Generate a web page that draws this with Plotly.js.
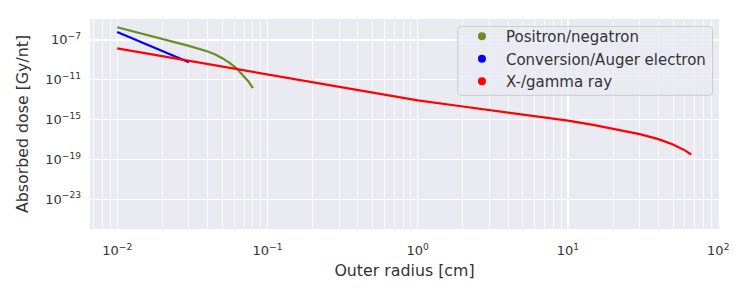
<!DOCTYPE html>
<html>
<head>
<meta charset="utf-8">
<script src="https://cdn.plot.ly/plotly-3.0.1.min.js"></script>
<style>html,body{margin:0;padding:0;background:#fff;}#chart{width:750px;height:300px;}</style>
</head>
<body>
<div id="chart"></div>
<script>
// Positron/negatron
const positronX = [0.01, 0.015, 0.02, 0.03, 0.04, 0.045, 0.05, 0.056, 0.062, 0.07, 0.075, 0.08];
const positronY = [1.86e-6, 3.8e-7, 1.17e-7, 2.5e-8, 6.8e-9, 3.4e-9, 1.48e-9, 5.0e-10, 1.48e-10, 2.1e-11, 6.3e-12, 1.48e-12];
// Conversion/Auger electron
const augerX = [0.01, 0.015, 0.02, 0.03];
const augerY = [6.3e-7, 4.7e-8, 7.1e-9, 5.9e-10];
// X-/gamma ray
const gammaX = [0.01, 0.03, 0.065, 0.1, 0.2, 0.3, 0.5, 1, 2, 3, 4, 5, 7, 10, 15, 20, 30, 40, 50, 60, 66];
const gammaY = [1.41e-8, 8.3e-10, 1.07e-10, 3.5e-11, 5.6e-12, 1.9e-12, 5.0e-13, 8.5e-14, 2.1e-14, 9.3e-15, 5.4e-15, 3.4e-15, 1.74e-15, 7.9e-16, 2.8e-16, 1.26e-16, 3.5e-17, 1.12e-17, 3.2e-18, 8.3e-19, 3.2e-19];

const seriesNames = ['Positron/negatron', 'Conversion/Auger electron', 'X-/gamma ray'];
const seriesColors = ['#6B8E23', '#0000FF', '#FF0000'];

const xTickVals = [0.01, 0.1, 1, 10, 100];
const xTickText = ['10<sup>−2</sup>', '10<sup>−1</sup>', '10<sup>0</sup>', '10<sup>1</sup>', '10<sup>2</sup>'];
const yTickVals = [1e-23, 1e-19, 1e-15, 1e-11, 1e-7];
const yTickText = ['10<sup>−23</sup>', '10<sup>−19</sup>', '10<sup>−15</sup>', '10<sup>−11</sup>', '10<sup>−7</sup>'];

const xs = [positronX, augerX, gammaX];
const ys = [positronY, augerY, gammaY];

const traces = [];
for (let i = 0; i < 3; i++) {
  traces.push({x: xs[i], y: ys[i], mode: 'lines', type: 'scatter', showlegend: false,
    line: {color: seriesColors[i], width: 2.2}, hoverinfo: 'skip'});
}
for (let i = 0; i < 3; i++) {
  traces.push({x: [null], y: [null], mode: 'markers', type: 'scatter', name: seriesNames[i],
    marker: {color: seriesColors[i], size: 8}});
}

// legend frame (paper coordinates), rounded rectangle
const bx0 = 0.5846, bx1 = 0.9897, by0 = 0.6366, by1 = 0.9644;
const rx = 0.005, ry = 0.015;
const framePath = `M ${bx0 + rx},${by0} L ${bx1 - rx},${by0} Q ${bx1},${by0} ${bx1},${by0 + ry} L ${bx1},${by1 - ry} Q ${bx1},${by1} ${bx1 - rx},${by1} L ${bx0 + rx},${by1} Q ${bx0},${by1} ${bx0},${by1 - ry} L ${bx0},${by0 + ry} Q ${bx0},${by0} ${bx0 + rx},${by0} Z`;

const FONT = '"DejaVu Sans", sans-serif';
const layout = {
  width: 750, height: 300,
  margin: {l: 90, r: 30.5, t: 18.5, b: 71},
  paper_bgcolor: '#FFFFFF', plot_bgcolor: '#EAEAF2',
  font: {family: FONT, color: '#333333', size: 13},
  xaxis: {type: 'log', range: [-2.181, 2.005], tickmode: 'array', tickvals: xTickVals, ticktext: xTickText,
    showgrid: true, gridcolor: '#FFFFFF', gridwidth: 1.3, zeroline: false, showline: false, ticks: '',
    tickfont: {size: 13, color: '#333333'}, ticklabelstandoff: 12,
    minor: {dtick: 'D1', showgrid: true, gridcolor: '#FFFFFF', gridwidth: 0.8, ticks: ''},
    title: {text: 'Outer radius [cm]', font: {size: 15.8, color: '#333333'}, standoff: 7}},
  yaxis: {type: 'log', range: [-25.97, -4.9], tickmode: 'array', tickvals: yTickVals, ticktext: yTickText,
    showgrid: true, gridcolor: '#FFFFFF', gridwidth: 1.3, zeroline: false, showline: false, ticks: '',
    tickfont: {size: 13, color: '#333333'}, ticklabelstandoff: 8,
    title: {text: 'Absorbed dose [Gy/nt]', font: {size: 15.8, color: '#333333'}, standoff: 12}},
  shapes: [{type: 'path', xref: 'paper', yref: 'paper', path: framePath,
    fillcolor: 'rgba(234,234,242,0.8)', line: {color: '#CCCCCC', width: 1}, layer: 'above'}],
  legend: {x: 0.585, y: 0.995, xanchor: 'left', yanchor: 'top', bgcolor: 'rgba(0,0,0,0)',
    borderwidth: 0, font: {size: 15, color: '#333333'}, itemwidth: 38},
  showlegend: true
};

Plotly.newPlot('chart', traces, layout, {displayModeBar: false, staticPlot: true});
</script>
</body>
</html>
